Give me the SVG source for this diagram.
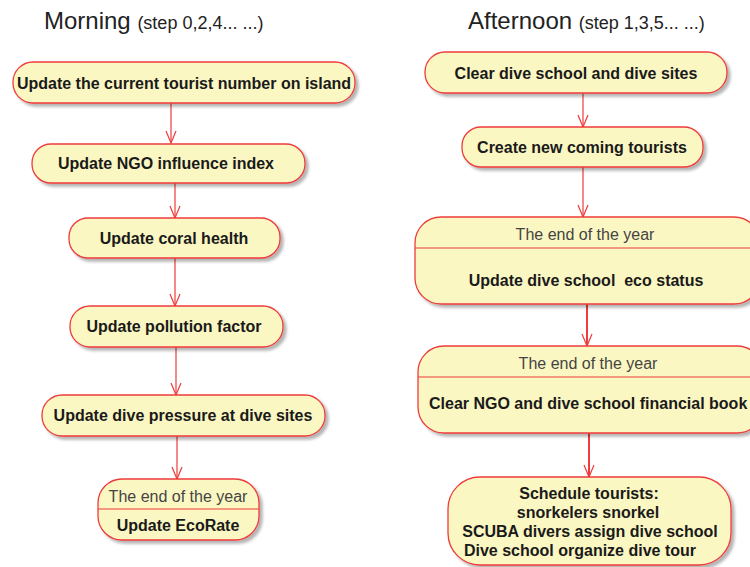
<svg xmlns="http://www.w3.org/2000/svg" width="750" height="567" viewBox="0 0 750 567">
  <style>
    .node { fill: #FBF7C2; stroke: #EE3B3B; stroke-width: 1.3; filter: url(#shadow); }
    .div { stroke: #EE3B3B; stroke-width: 1.2; }
    .lbl { font-family: "Liberation Sans", Arial, sans-serif; font-size: 16px; font-weight: bold; fill: #1a1a1a; text-anchor: middle; }
    .hdr { font-family: "Liberation Sans", Arial, sans-serif; font-size: 16px; fill: #444; text-anchor: middle; }
    .title { font-family: "Liberation Sans", Arial, sans-serif; font-size: 24px; fill: #222; }
    .sub { font-size: 18px; }
    .edge { stroke: #EE3B3B; stroke-width: 1.2; fill: none; marker-end: url(#arrow); }
    .edge.thick { stroke-width: 2; }
  </style>
  <defs>
    <filter id="shadow" x="-10%" y="-20%" width="130%" height="160%">
      <feGaussianBlur in="SourceAlpha" stdDeviation="1.5"/>
      <feOffset dx="3" dy="3" result="b"/>
      <feComponentTransfer><feFuncA type="linear" slope="0.3"/></feComponentTransfer>
      <feMerge><feMergeNode/><feMergeNode in="SourceGraphic"/></feMerge>
    </filter>
    <!-- open V arrowhead, drawn along +x so orient="auto" points it down the line -->
    <marker id="arrow" viewBox="0 0 14 12" refX="13" refY="6" markerWidth="14" markerHeight="12" markerUnits="userSpaceOnUse" orient="auto">
      <path d="M1,1 L13,6 L1,11" fill="none" stroke="#EE3B3B" stroke-width="1.2"/>
    </marker>
  </defs>

  <rect width="750" height="567" fill="#ffffff"/>

  <!-- column headings -->
  <text class="title" x="44" y="29">Morning <tspan class="sub">(step 0,2,4... ...)</tspan></text>
  <text class="title" x="468" y="29">Afternoon <tspan class="sub">(step 1,3,5... ...)</tspan></text>

  <!-- connectors -->
  <g id="connectors">
    <path class="edge" d="M171,103 V143"/>
    <path class="edge" d="M175,183 V218"/>
    <path class="edge" d="M175,258 V306"/>
    <path class="edge" d="M176,347 V395"/>
    <path class="edge" d="M177,436 V479"/>
    <path class="edge" d="M583,93 V127"/>
    <path class="edge" d="M583,167 V217"/>
    <path class="edge thick" d="M587,304 V346"/>
    <path class="edge thick" d="M589,433 V477"/>
  </g>

  <!-- morning column -->
  <g id="m1">
    <rect class="node" x="13" y="62" width="342" height="41" rx="20"/>
    <text class="lbl" x="184" y="89">Update the current tourist number on island</text>
  </g>
  <g id="m2">
    <rect class="node" x="32" y="144" width="273" height="39" rx="19"/>
    <text class="lbl" x="166" y="169">Update NGO influence index</text>
  </g>
  <g id="m3">
    <rect class="node" x="69" y="218" width="211" height="40" rx="19"/>
    <text class="lbl" x="174" y="244">Update coral health</text>
  </g>
  <g id="m4">
    <rect class="node" x="70" y="306" width="213" height="41" rx="20"/>
    <text class="lbl" x="174" y="332">Update pollution factor</text>
  </g>
  <g id="m5">
    <rect class="node" x="42" y="395" width="283" height="41" rx="20"/>
    <text class="lbl" x="183" y="421">Update dive pressure at dive sites</text>
  </g>
  <g id="m6">
    <rect class="node" x="98" y="479" width="161" height="61" rx="24"/>
    <line class="div" x1="98" y1="509" x2="259" y2="509"/>
    <text class="hdr" x="178" y="502">The end of the year</text>
    <text class="lbl" x="178" y="531">Update EcoRate</text>
  </g>

  <!-- afternoon column -->
  <g id="a1">
    <rect class="node" x="425" y="52" width="302" height="41" rx="20"/>
    <text class="lbl" x="576" y="79">Clear dive school and dive sites</text>
  </g>
  <g id="a2">
    <rect class="node" x="462" y="127" width="241" height="40" rx="19"/>
    <text class="lbl" x="582" y="153">Create new coming tourists</text>
  </g>
  <g id="a3">
    <rect class="node" x="415" y="217" width="345" height="87" rx="26"/>
    <line class="div" x1="415" y1="248" x2="760" y2="248"/>
    <text class="hdr" x="585" y="240">The end of the year</text>
    <text class="lbl" x="586" y="286">Update dive school&#160; eco status</text>
  </g>
  <g id="a4">
    <rect class="node" x="418" y="346" width="345" height="87" rx="26"/>
    <line class="div" x1="418" y1="377" x2="763" y2="377"/>
    <text class="hdr" x="588" y="369">The end of the year</text>
    <text class="lbl" x="429" y="409" style="text-anchor:start">Clear NGO and dive school financial book</text>
  </g>
  <g id="a5">
    <rect class="node" x="448" y="477" width="283" height="88" rx="32"/>
    <text class="lbl" x="589" y="499">Schedule tourists:</text>
    <text class="lbl" x="588" y="518">snorkelers snorkel</text>
    <text class="lbl" x="590" y="537">SCUBA divers assign dive school</text>
    <text class="lbl" x="580" y="556">Dive school organize dive tour</text>
  </g>
</svg>
